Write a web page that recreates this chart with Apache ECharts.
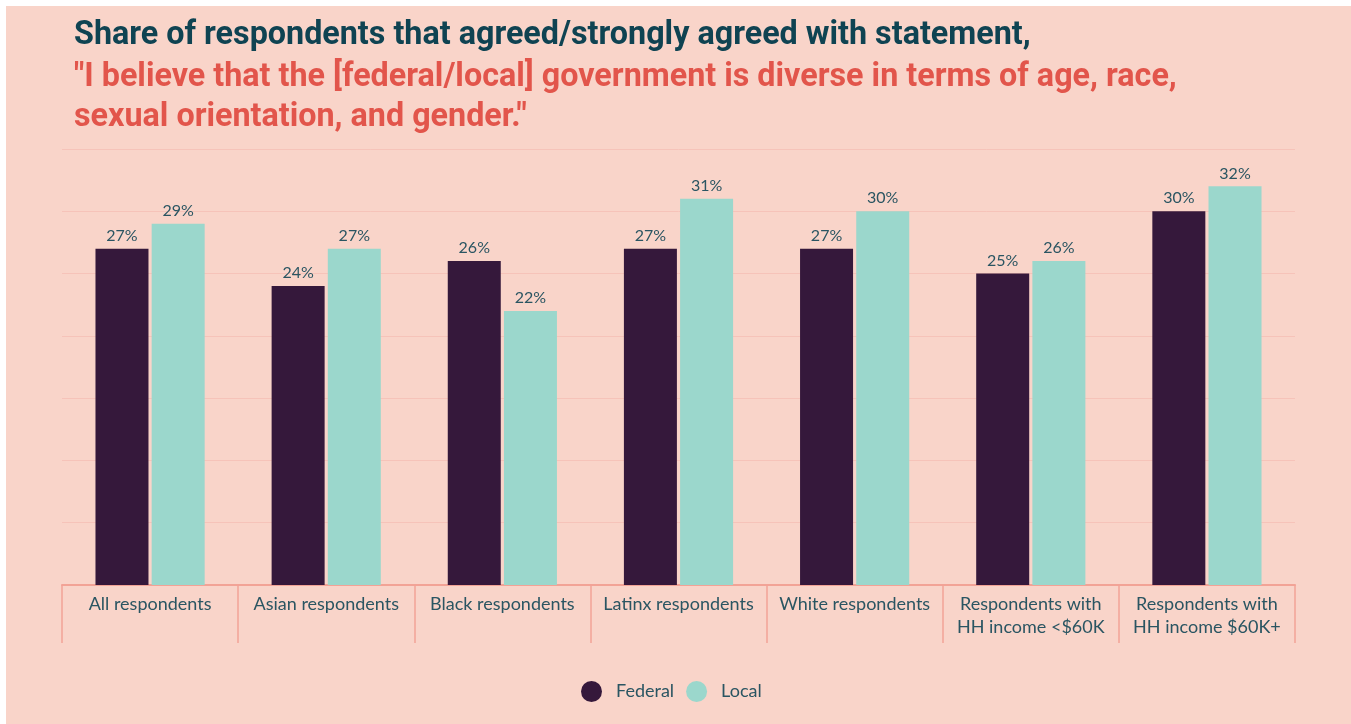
<!DOCTYPE html>
<html>
<head>
<meta charset="utf-8">
<script src="https://cdn.jsdelivr.net/npm/echarts@6/dist/echarts.min.js"></script>
<style>
  html, body { margin: 0; padding: 0; background: #ffffff; }
  #chart { position: absolute; left: 6px; top: 6px; width: 1345px; height: 718px; }
</style>
</head>
<body>
<div id="chart"></div>
<script>
// Survey groups along the x axis
const categories = [
  'All respondents',
  'Asian respondents',
  'Black respondents',
  'Latinx respondents',
  'White respondents',
  'Respondents with\nHH income <$60K',
  'Respondents with\nHH income $60K+'
];
// Percent agreeing / strongly agreeing
const federalValues = [27, 24, 26, 27, 27, 25, 30];
const localValues = [29, 27, 22, 31, 30, 26, 32];
const seriesNames = ['Federal', 'Local'];

const textColor = '#2a5562';
const labelFont = 'Lato, "Open Sans", sans-serif';

const chart = echarts.init(document.getElementById('chart'));

function barSeries(name, values, color) {
  return {
    name: name,
    type: 'bar',
    data: values,
    barWidth: 53,
    barGap: '6%',
    itemStyle: { color: color },
    label: {
      show: true,
      position: 'top',
      distance: 5,
      formatter: '{c}%',
      color: textColor,
      fontFamily: labelFont,
      fontSize: 16
    }
  };
}

chart.setOption({
  backgroundColor: '#f9d4c9',
  animation: false,
  title: [
    {
      text: 'Share of respondents that agreed/strongly agreed with statement,',
      left: 63,
      top: 9,
      textStyle: {
        fontFamily: 'Roboto, sans-serif',
        fontWeight: 'bold',
        fontSize: 32.3,
        color: '#0f4352'
      }
    },
    {
      text: '"I believe that the [federal/local] government is diverse in terms of age, race,\nsexual orientation, and gender."',
      left: 63,
      top: 47,
      textStyle: {
        fontFamily: 'Roboto, sans-serif',
        fontWeight: 'bold',
        fontSize: 32.3,
        lineHeight: 40,
        color: '#e2554b'
      }
    }
  ],
  legend: {
    data: seriesNames,
    bottom: 17,
    left: 570,
    icon: 'circle',
    itemWidth: 21,
    itemHeight: 21,
    itemGap: 12,
    textStyle: {
      fontFamily: labelFont,
      fontSize: 18,
      color: textColor,
      padding: [0, 0, 0, 9]
    }
  },
  grid: {
    left: 56,
    right: 56,
    top: 143,
    bottom: 139,
    containLabel: false
  },
  xAxis: {
    type: 'category',
    data: categories,
    axisLine: { show: true, lineStyle: { color: '#f2a396', width: 2 } },
    axisTick: {
      show: true,
      alignWithLabel: false,
      length: 58,
      lineStyle: { color: '#f2a396', width: 1.5 }
    },
    axisLabel: {
      interval: 0,
      margin: 8,
      color: textColor,
      fontFamily: labelFont,
      fontSize: 18,
      lineHeight: 23
    }
  },
  yAxis: {
    type: 'value',
    min: 0,
    max: 35,
    interval: 5,
    axisLine: { show: false },
    axisTick: { show: false },
    axisLabel: { show: false },
    splitLine: { lineStyle: { color: '#f6c3b9', width: 1 } }
  },
  series: [
    barSeries(seriesNames[0], federalValues, '#35183b'),
    barSeries(seriesNames[1], localValues, '#9bd7cc')
  ]
});
</script>
</body>
</html>
